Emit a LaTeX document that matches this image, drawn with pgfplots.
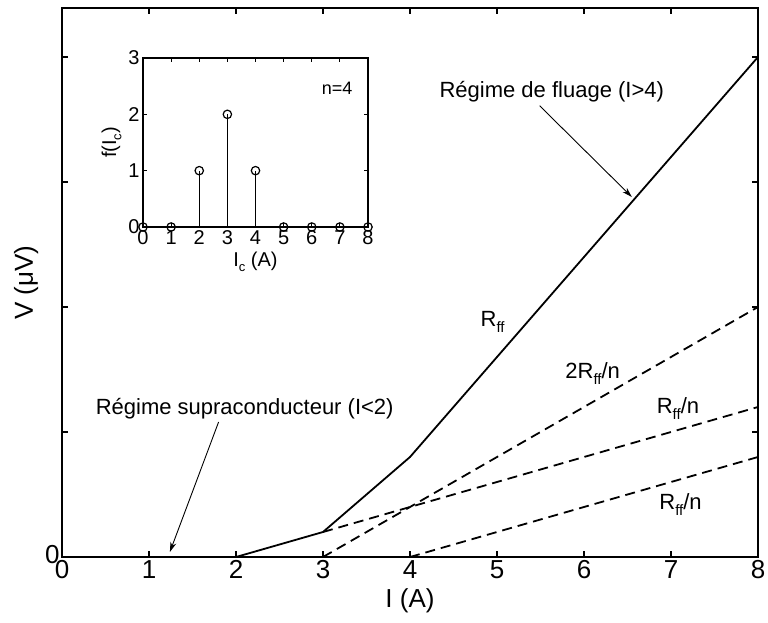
\documentclass[border=0pt]{standalone}
\usepackage{fontspec}
\setmainfont{Liberation Sans}
\usepackage{pgfplots}
\pgfplotsset{compat=1.18}
\usetikzlibrary{arrows.meta}
\newcommand\sub[1]{\raisebox{-0.5ex}{\fontsize{15}{15}\selectfont #1}}
\newcommand\subs[1]{\raisebox{-0.5ex}{\fontsize{13}{13}\selectfont #1}}
\begin{document}
\begin{tikzpicture}
\begin{axis}[at={(62pt,65pt)}, anchor=south west, scale only axis,
  width=696pt, height=549pt,
  xmin=0, xmax=8, ymin=0, ymax=4.392,
  xtick={0,...,8}, ytick={0,...,4}, yticklabels={0,,,,},
  axis line style={line width=2.4pt},
  major tick length=6pt, tick style={line width=1.2pt, black},
  tick label style={font=\fontsize{26}{30}\selectfont},
  yticklabel style={xshift=1pt, yshift=2pt},
  label style={font=\fontsize{26}{30}\selectfont},
  /pgf/number format/assume math mode=true,
  xlabel={I (A)}, ylabel={V (μV)},
  xlabel style={yshift=-3pt},
  clip=false]
\addplot[black, line width=1.8pt] coordinates {(2,0) (3,0.2) (4,0.8) (8,4)};
\addplot[black, line width=1.8pt, dash pattern=on 10pt off 6pt] coordinates {(3,0.2) (8,1.2)};
\addplot[black, line width=1.8pt, dash pattern=on 10pt off 6pt] coordinates {(3,0) (8,2)};
\addplot[black, line width=1.8pt, dash pattern=on 10pt off 6pt] coordinates {(4,0) (8,0.8)};
\node[font=\fontsize{22}{26}\selectfont] at (axis cs:5.63,3.72) {Régime de fluage (I>4)};
\draw[-{Stealth[length=10pt,width=6pt]}, line width=0.9pt] (axis cs:5.49,3.61) -- (axis cs:6.55,2.88);
\node[font=\fontsize{22}{26}\selectfont] at (axis cs:2.10,1.19) {Régime supraconducteur (I<2)};
\draw[-{Stealth[length=10pt,width=6pt]}, line width=0.9pt] (axis cs:1.80,1.08) -- (axis cs:1.24,0.04);
\node[font=\fontsize{22}{26}\selectfont] at (axis cs:4.95,1.88) {R\sub{ff}};
\node[font=\fontsize{22}{26}\selectfont] at (axis cs:6.10,1.47) {2R\sub{ff}/n};
\node[font=\fontsize{22}{26}\selectfont] at (axis cs:7.08,1.19) {R\sub{ff}/n};
\node[font=\fontsize{22}{26}\selectfont] at (axis cs:7.11,0.42) {R\sub{ff}/n};
\end{axis}
\begin{axis}[at={(143pt,395pt)}, anchor=south west, scale only axis,
  width=225pt, height=169pt,
  xmin=0, xmax=8, ymin=0, ymax=3,
  xtick={0,...,8}, ytick={0,...,3},
  axis line style={line width=1.8pt},
  major tick length=4pt, tick style={line width=1pt, black},
  tick label style={font=\fontsize{20}{24}\selectfont},
  label style={font=\fontsize{20}{24}\selectfont},
  /pgf/number format/assume math mode=true,
  xlabel={I\subs{c} (A)}, ylabel={f(I\subs{c})},
  clip=false]
\addplot[black, ycomb, mark=o, mark size=4.2pt, line width=1.2pt] coordinates {(0,0)(1,0)(2,1)(3,2)(4,1)(5,0)(6,0)(7,0)(8,0)};
\node[font=\fontsize{18}{20}\selectfont] at (axis cs:6.9,2.47) {n=4};
\end{axis}
\pgfresetboundingbox
\path[use as bounding box] (0,0) rectangle (768pt,622pt);
\end{tikzpicture}
\end{document}
